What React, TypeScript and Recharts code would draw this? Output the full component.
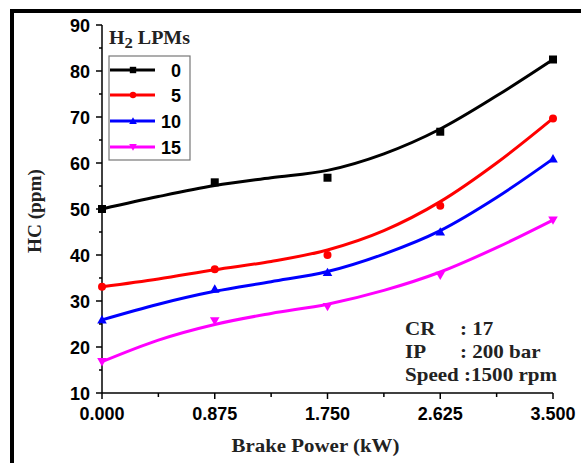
import React from 'react';
import { ComposedChart, Line, Scatter, XAxis, YAxis } from 'recharts';

// Measured points (markers)
const powerX = [0, 0.875, 1.75, 2.625, 3.5];
const hcLpm0 = [50, 55.8, 56.8, 66.8, 82.5];
const hcLpm5 = [33.1, 36.9, 40, 50.7, 69.7];
const hcLpm10 = [25.9, 32.6, 36.2, 45, 60.9];
const hcLpm15 = [16.8, 25.7, 28.8, 35.6, 47.6];

// Fitted curves
const fitX = [0, 0.4375, 0.875, 1.3125, 1.75, 2.1875, 2.625, 3.0625, 3.5];
const fitLpm0 = [50, 52.7, 55.1, 56.8, 58.4, 62.0, 67.4, 74.6, 82.5];
const fitLpm5 = [33.1, 34.8, 36.8, 38.6, 41.1, 45.3, 51.6, 60, 69.7];
const fitLpm10 = [25.9, 29.3, 32.1, 34.2, 36.4, 40.2, 45.3, 52.5, 60.9];
const fitLpm15 = [16.8, 21.5, 24.9, 27.3, 29.3, 32.3, 36.3, 41.6, 47.6];

const xTicks = [0, 0.4375, 0.875, 1.3125, 1.75, 2.1875, 2.625, 3.0625, 3.5];
const xMajor = [0, 0.875, 1.75, 2.625, 3.5];
const yTicks = [10, 15, 20, 25, 30, 35, 40, 45, 50, 55, 60, 65, 70, 75, 80, 85, 90];

const seriesNames = ['0', '5', '10', '15'];
const seriesColors = ['#000000', '#ff0000', '#0000ff', '#ff00ff'];
const seriesShapes = ['square', 'circle', 'triangleUp', 'triangleDown'];

const fitRows = fitX.map((x, i) => ({
  x,
  f0: fitLpm0[i],
  f5: fitLpm5[i],
  f10: fitLpm10[i],
  f15: fitLpm15[i],
}));
const markerSets = [hcLpm0, hcLpm5, hcLpm10, hcLpm15].map((arr) =>
  powerX.map((x, i) => ({ x, y: arr[i] }))
);
const fitKeys = ['f0', 'f5', 'f10', 'f15'];

const SANS = '"Liberation Sans", Arial, sans-serif';
const SERIF = '"Liberation Serif", "Times New Roman", serif';

function Marker({ kind, cx, cy, color, s }: any) {
  if (cx == null || cy == null) return null;
  if (kind === 'square')
    return <rect x={cx - s} y={cy - s} width={2 * s} height={2 * s} fill={color} />;
  if (kind === 'circle') return <circle cx={cx} cy={cy} r={s} fill={color} />;
  if (kind === 'triangleUp')
    return (
      <polygon
        points={`${cx},${cy - s * 1.2} ${cx - s * 1.2},${cy + s * 0.9} ${cx + s * 1.2},${cy + s * 0.9}`}
        fill={color}
      />
    );
  return (
    <polygon
      points={`${cx},${cy + s * 1.2} ${cx - s * 1.2},${cy - s * 0.9} ${cx + s * 1.2},${cy - s * 0.9}`}
      fill={color}
    />
  );
}

const XTick = (props: any) => {
  const { x, y, payload } = props;
  const major = xMajor.some((m) => Math.abs(m - payload.value) < 1e-6);
  return (
    <g>
      <line x1={x} y1={y} x2={x} y2={y + (major ? 6 : 4)} stroke="#000" strokeWidth={1.5} />
      {major && (
        <text x={x} y={y + 27} textAnchor="middle" fontFamily={SANS} fontWeight="bold" fontSize={18} fill="#000">
          {payload.value.toFixed(3)}
        </text>
      )}
    </g>
  );
};

const YTick = (props: any) => {
  const { x, y, payload } = props;
  const major = payload.value % 10 === 0;
  return (
    <g>
      <line x1={x} y1={y} x2={x - (major ? 6 : 3)} y2={y} stroke="#000" strokeWidth={1.5} />
      {major && (
        <text x={x - 12} y={y + 6.5} textAnchor="end" fontFamily={SANS} fontWeight="bold" fontSize={18} fill="#000">
          {payload.value}
        </text>
      )}
    </g>
  );
};

const XLabel = (props: any) => {
  const vb = props.viewBox || {};
  return (
    <text
      x={vb.x + vb.width / 2 - 12}
      y={vb.y + 59}
      textAnchor="middle"
      fontFamily={SERIF}
      fontWeight="bold"
      fontSize={18}
      fill="#222"
      textLength={168}
      lengthAdjust="spacingAndGlyphs"
    >
      Brake Power (kW)
    </text>
  );
};

const YLabel = (props: any) => {
  const vb = props.viewBox || {};
  const cx = 35;
  const cy = vb.y + vb.height / 2 + 2;
  return (
    <text
      x={cx}
      y={cy}
      transform={`rotate(-90 ${cx} ${cy})`}
      textAnchor="middle"
      dominantBaseline="central"
      fontFamily={SERIF}
      fontWeight="bold"
      fontSize={18}
      fill="#222"
      textLength={84}
      lengthAdjust="spacingAndGlyphs"
    >
      HC (ppm)
    </text>
  );
};

const legendRowsY = [70, 95, 121, 147];

export default function App() {
  return (
    <div style={{ position: 'absolute', left: 0, top: 0, width: 581, height: 463, background: '#fff' }}>
      <ComposedChart
        width={581}
        height={463}
        data={fitRows}
        margin={{ top: 25, right: 28, bottom: 30, left: 42 }}
      >
        <XAxis
          dataKey="x"
          type="number"
          domain={[0, 3.5]}
          ticks={xTicks}
          interval={0}
          tickSize={0}
          tickMargin={0}
          tickLine={false}
          tick={<XTick />}
          axisLine={{ stroke: '#000', strokeWidth: 1.5 }}
          height={40}
          label={<XLabel />}
        />
        <YAxis
          type="number"
          domain={[10, 90]}
          ticks={yTicks}
          interval={0}
          tickSize={0}
          tickMargin={0}
          tickLine={false}
          tick={<YTick />}
          axisLine={{ stroke: '#000', strokeWidth: 1.5 }}
          width={60}
          label={<YLabel />}
        />
        {fitKeys.map((k, i) => (
          <Line
            key={k}
            dataKey={k}
            type="monotone"
            stroke={seriesColors[i]}
            strokeWidth={3}
            dot={false}
            activeDot={false}
            isAnimationActive={false}
          />
        ))}
        {markerSets.map((d, i) => (
          <Scatter
            key={'s' + i}
            data={d}
            dataKey="y"
            isAnimationActive={false}
            shape={(p: any) => <Marker kind={seriesShapes[i]} cx={p.cx} cy={p.cy} color={seriesColors[i]} s={4} />}
          />
        ))}
      </ComposedChart>
      <svg
        width={581}
        height={463}
        style={{ position: 'absolute', left: 0, top: 0, pointerEvents: 'none' }}
      >
        {/* frame */}
        <rect x={10} y={9} width={571} height={4} fill="#000" />
        <rect x={10} y={9} width={4} height={454} fill="#000" />
        {/* legend */}
        <text
          x={109}
          y={44}
          fontFamily={SERIF}
          fontWeight="bold"
          fontSize={18}
          fill="#222"
          textLength={81}
          lengthAdjust="spacingAndGlyphs"
        >
          H<tspan fontSize={15} dy={4}>2</tspan>
          <tspan dy={-4}> LPMs</tspan>
        </text>
        <rect x={109} y={56} width={81} height={104} fill="none" stroke="#777" strokeWidth={1.2} />
        {seriesNames.map((n, i) => (
          <g key={n}>
            <line x1={110} y1={legendRowsY[i]} x2={155} y2={legendRowsY[i]} stroke={seriesColors[i]} strokeWidth={3} />
            <Marker kind={seriesShapes[i]} cx={133} cy={legendRowsY[i]} color={seriesColors[i]} s={3.2} />
            <text
              x={181}
              y={legendRowsY[i] + 6.5}
              textAnchor="end"
              fontFamily={SANS}
              fontWeight="bold"
              fontSize={18}
              fill="#000"
            >
              {n}
            </text>
          </g>
        ))}
        {/* annotation */}
        <g transform="translate(405 0) scale(1.17 1)" fontFamily={SERIF} fontWeight="bold" fontSize={18} fill="#222">
          <text x={0} y={335}>CR</text>
          <text x={47} y={335}>: 17</text>
          <text x={0} y={358}>IP</text>
          <text x={47} y={358}>: 200 bar</text>
          <text x={0} y={381}>Speed :1500 rpm</text>
        </g>
      </svg>
    </div>
  );
}
